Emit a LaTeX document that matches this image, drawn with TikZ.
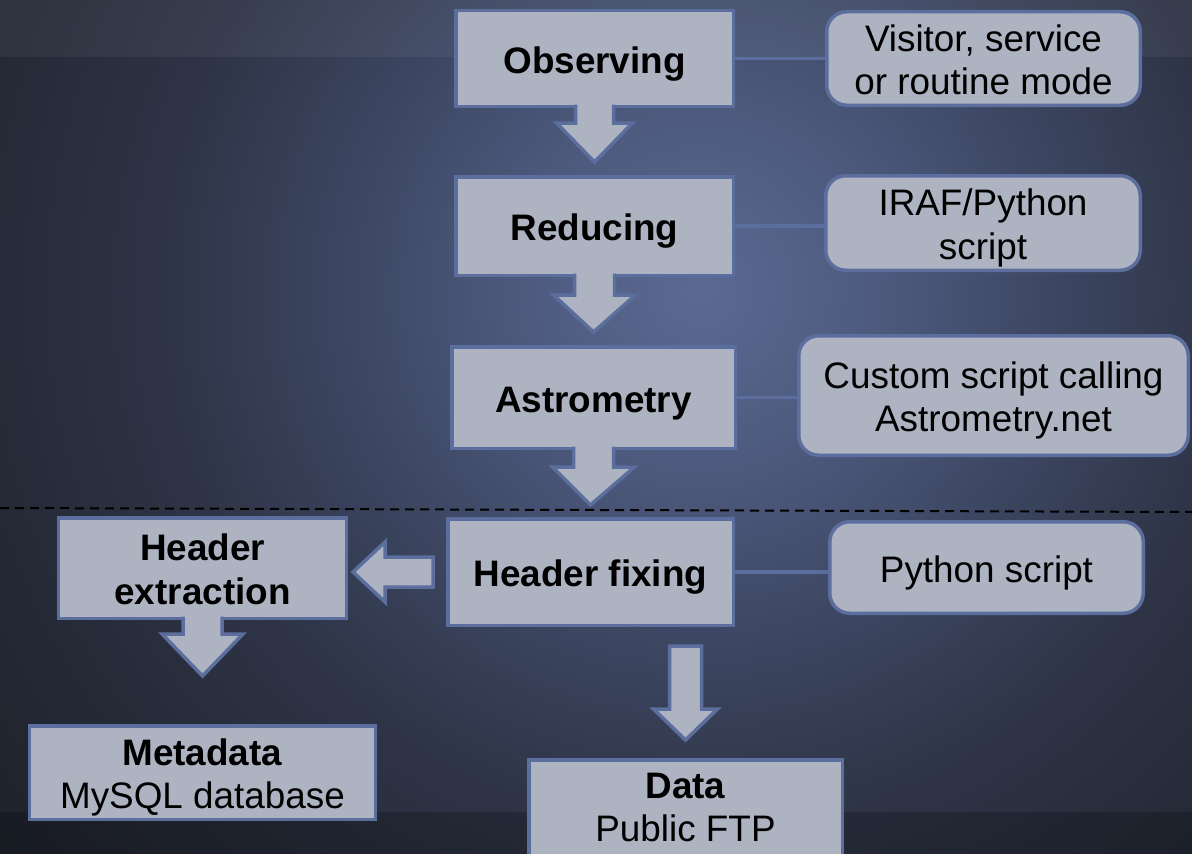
\documentclass[tikz,border=0pt]{standalone}
\usepackage{fontspec}
\setmainfont{Liberation Sans}
\usetikzlibrary{calc}
\definecolor{boxfill}{HTML}{ADB3C1}
\definecolor{boxline}{HTML}{5B6E9E}
\definecolor{bgA}{HTML}{5B6A93}
\definecolor{bgB}{HTML}{4D5A7E}
\definecolor{bgC}{HTML}{3C4661}
\definecolor{bgD}{HTML}{2E3446}
\definecolor{bgE}{HTML}{252A37}
\definecolor{bgF}{HTML}{1E222B}
\pgfdeclareradialshading{bgrad}{\pgfpoint{0bp}{0bp}}{color(0bp)=(bgA); color(5bp)=(bgB); color(10bp)=(bgC); color(15bp)=(bgD); color(20bp)=(bgE); color(25bp)=(bgF); color(50bp)=(bgF)}
\newcommand{\sth}{\rule{0pt}{37bp}}
\newcommand{\std}{\rule[-8bp]{0pt}{8bp}}
\newcommand{\stdd}{\rule[-15bp]{0pt}{15bp}}
\tikzset{
  sq/.style={rectangle, fill=boxfill, draw=boxline, line width=3.5bp, inner sep=0pt, align=center, text=black, font=\fontsize{37}{44}\selectfont},
  rnd/.style={sq, rounded corners=20bp},
  link/.style={draw=boxline, line width=3.5bp},
  barrow/.style={fill=boxfill, draw=boxline, line width=3.5bp, line join=miter},
  sep/.style={draw=black, line width=2bp, dash pattern=on 9bp off 6bp}
}
\newcommand{\blockdown}[6]{%
  \draw[barrow] ($(#1.south)+(-#3,-3.5)$) -- ($(#1.south)+(-#3,#5)$) -- ($(#1.south)+(-#4,#5)$)
   -- ($(#2.north)+(0,-#6)$) -- ($(#1.south)+(#4,#5)$) -- ($(#1.south)+(#3,#5)$) -- ($(#1.south)+(#3,-3.5)$);}
\begin{document}
\begin{tikzpicture}[x=1bp,y=-1bp]
\useasboundingbox (0,0) rectangle (1192,854);
\begin{scope}
  \clip (0,0) rectangle (1192,854);
  \path[shading=bgrad] (700,290) circle (900);
  \fill[white, opacity=0.05] (0,0) rectangle (1192,57);
  \fill[black, opacity=0.2] (0,812) rectangle (1192,854);
\end{scope}

\draw[sep] (0,508) -- (1192,512);

\node[sq, minimum width=277.5bp, minimum height=95.5bp] (obs) at (594.5,58.5) {\sth\textbf{Observing}\std};
\node[rnd, minimum width=313.5bp, minimum height=93.5bp] (vis) at (983.5,58.5) {\sth Visitor, service\\or routine mode\std};
\node[sq, minimum width=277.5bp, minimum height=98.5bp] (red) at (594.5,226) {\sth\textbf{Reducing}\std};
\node[rnd, minimum width=314.5bp, minimum height=94.5bp] (iraf) at (983,223) {\sth IRAF/Python\\script\std};
\node[sq, minimum width=283.5bp, minimum height=101.5bp] (ast) at (593.5,397.5) {\sth\textbf{Astrometry}\std};
\node[rnd, minimum width=389.5bp, minimum height=119.5bp] (cus) at (993.5,395.5) {\sth Custom script calling\\Astrometry.net\std};
\node[sq, minimum width=285.5bp, minimum height=106.5bp] (hf) at (590.5,572) {\sth\textbf{Header fixing}\std};
\node[rnd, minimum width=313.5bp, minimum height=91.5bp] (py) at (986.5,567.5) {\sth Python script\std};
\node[sq, minimum width=287.5bp, minimum height=100.5bp] (he) at (202.5,568) {\sth\textbf{Header}\\\textbf{extraction}\std};
\node[sq, minimum width=345.5bp, minimum height=93.5bp] (meta) at (202.5,772.5) {\sth\textbf{Metadata}\\MySQL database\std};
\begin{scope}
  \clip (0,0) rectangle (1192,854);
  \node[sq, minimum width=313.5bp, minimum height=98.5bp] (data) at (685.5,809) {\sth\textbf{Data}\\Public FTP\stdd};
\end{scope}

\draw[link] (obs.east) -- (vis.west |- obs.east);
\draw[link] (red.east) -- (iraf.west |- red.east);
\draw[link] (ast.east) -- (cus.west |- ast.east);
\draw[link] (hf.east) -- (py.west |- hf.east);

\blockdown{obs}{red}{19}{38}{15}{13}
\blockdown{red}{ast}{20}{41}{18}{13}
\blockdown{ast}{hf}{20}{41}{17}{12}
\blockdown{he}{meta}{19.5}{40.5}{14}{48}

\draw[barrow] ($(hf.west)+(-13,-15)$) -- ($(hf.west)+(-61,-15)$) -- ($(hf.west)+(-61,-30)$)
  -- ($(he.east |- hf.west)+(5,0)$) -- ($(hf.west)+(-61,30)$) -- ($(hf.west)+(-61,15)$)
  -- ($(hf.west)+(-13,15)$) -- cycle;

\draw[barrow] ($(data.north |- hf.south)+(-16,19)$) -- ($(data.north)+(-16,-49)$) -- ($(data.north)+(-32,-49)$)
  -- ($(data.north)+(0,-18)$) -- ($(data.north)+(32,-49)$) -- ($(data.north)+(16,-49)$)
  -- ($(data.north |- hf.south)+(16,19)$) -- cycle;
\end{tikzpicture}
\end{document}
